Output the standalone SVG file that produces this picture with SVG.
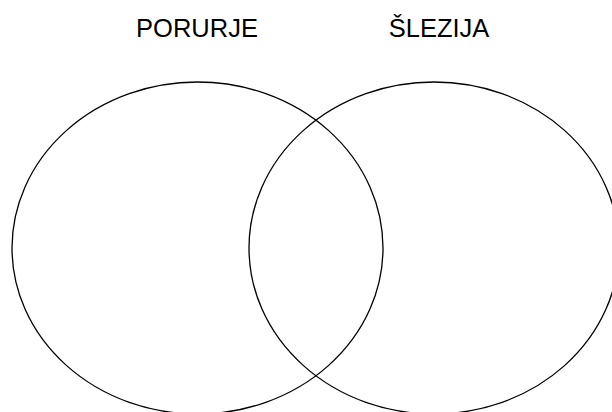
<svg xmlns="http://www.w3.org/2000/svg" width="612" height="412" viewBox="0 0 612 412">
<style>
.set{fill:none;stroke:#000;stroke-width:1.3}
.lbl{font-family:"Liberation Sans",Arial,sans-serif;font-size:25.5px;fill:#000;text-anchor:middle}
</style>
<rect width="612" height="412" fill="#fff"/>
<g id="porurje">
<ellipse class="set" cx="197.5" cy="248" rx="185.5" ry="166"/>
<text class="lbl" x="197" y="37">PORURJE</text>
</g>
<g id="slezija">
<ellipse class="set" cx="434" cy="248" rx="185" ry="166"/>
<text class="lbl" x="439" y="37">ŠLEZIJA</text>
</g>
</svg>
